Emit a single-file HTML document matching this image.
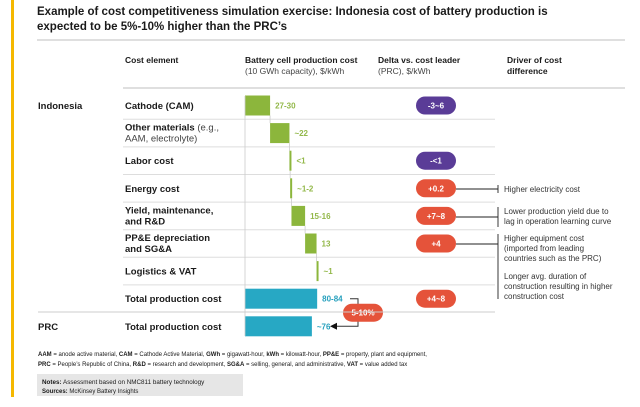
<!DOCTYPE html>
<html><head><meta charset="utf-8"><style>
body{margin:0;background:#fff;font-family:"Liberation Sans",sans-serif;}
svg{display:block}
</style></head><body>
<svg width="640" height="407" viewBox="0 0 640 407" font-family="Liberation Sans, sans-serif">
<rect x="11" y="0" width="3" height="397" fill="#f5b800"/>
<text x="37" y="15" font-size="11.5" font-weight="bold" fill="#1a1a1a">Example of cost competitiveness simulation exercise: Indonesia cost of battery production is<tspan x="37" y="30">expected to be 5%-10% higher than the PRC’s</tspan></text>
<line x1="37" y1="40" x2="625" y2="40" stroke="#ccc" stroke-width="1.2"/>
<g font-size="8.5" fill="#1a1a1a">
<text x="125" y="63" font-weight="bold">Cost element</text>
<text x="245" y="63" font-weight="bold">Battery cell production cost</text>
<text x="245" y="74" fill="#444">(10 GWh capacity), $/kWh</text>
<text x="378" y="63" font-weight="bold">Delta vs. cost leader</text>
<text x="378" y="74" fill="#444">(PRC), $/kWh</text>
<text x="507" y="63" font-weight="bold">Driver of cost</text>
<text x="507" y="74" font-weight="bold">difference</text>
</g>
<line x1="123" y1="88" x2="625" y2="88" stroke="#ccc" stroke-width="1.2"/>
<g id="rows"></g>
<text x="38" y="109" font-size="9.5" font-weight="bold" fill="#1a1a1a">Indonesia</text>
<text x="38" y="330" font-size="9.5" font-weight="bold" fill="#1a1a1a">PRC</text>
<line x1="38" y1="312" x2="495" y2="312" stroke="#ccc" stroke-width="1"/>
<g font-size="8" fill="#333">
<line x1="456" y1="189" x2="498" y2="189" stroke="#222" stroke-width="0.9"/>
<line x1="498" y1="185" x2="498" y2="193" stroke="#222" stroke-width="0.9"/>
<text x="504" y="192">Higher electricity cost</text>
<line x1="456" y1="217" x2="498" y2="217" stroke="#222" stroke-width="0.9"/>
<line x1="498" y1="207" x2="498" y2="227" stroke="#222" stroke-width="0.9"/>
<text x="504" y="214">Lower production yield due to<tspan x="504" y="224">lag in operation learning curve</tspan></text>
<line x1="456" y1="244" x2="498" y2="244" stroke="#222" stroke-width="0.9"/>
<line x1="498" y1="234" x2="498" y2="299" stroke="#222" stroke-width="0.9"/>
<text x="504" y="241">Higher equipment cost<tspan x="504" y="251">(imported from leading</tspan><tspan x="504" y="261">countries such as the PRC)</tspan></text>
<text x="504" y="279">Longer avg. duration of<tspan x="504" y="289">construction resulting in higher</tspan><tspan x="504" y="299">construction cost</tspan></text>
</g>
<g font-size="6" fill="#1a1a1a">
<text x="38" y="356"><tspan font-weight="bold">AAM</tspan> = anode active material, <tspan font-weight="bold">CAM</tspan> = Cathode Active Material, <tspan font-weight="bold">GWh</tspan> = gigawatt-hour, <tspan font-weight="bold">kWh</tspan> = kilowatt-hour, <tspan font-weight="bold">PP&amp;E</tspan> = property, plant and equipment,</text>
<text x="38" y="366"><tspan font-weight="bold">PRC</tspan> = People’s Republic of China, <tspan font-weight="bold">R&amp;D</tspan> = research and development, <tspan font-weight="bold">SG&amp;A</tspan> = selling, general, and administrative, <tspan font-weight="bold">VAT</tspan> = value added tax</text>
</g>
<rect x="37" y="374" width="206" height="22" fill="#e6e6e6"/>
<text x="42" y="384" font-size="6.3" fill="#1a1a1a"><tspan font-weight="bold">Notes:</tspan> Assessment based on NMC811 battery technology</text>
<text x="42" y="393" font-size="6" fill="#1a1a1a"><tspan font-weight="bold">Sources:</tspan> McKinsey Battery Insights</text>
</svg>
<script>
const categories=["Cathode (CAM)","Other materials","Labor cost","Energy cost","Yield, maintenance, and R&D","PP&E depreciation and SG&A","Logistics & VAT","Total production cost","Total production cost"];
const costValues=[28.5,22,0.8,1.5,15.5,13,1,82,76];
const valueLabels=["27-30","~22","<1","~1-2","15-16","13","~1","80-84","~76"];
const deltaLabels=["-3~6","","-<1","+0.2","+7~8","+4","","+4~8",""];
const NS="http://www.w3.org/2000/svg";
const g=document.getElementById('rows');
const x0=245,scale=0.88;
const xs=v=>x0+v*scale;
const rowCenter=i=>105.5+i*27.6;
function el(t,a,p){const e=document.createElementNS(NS,t);for(const k in a)e.setAttribute(k,a[k]);(p||g).appendChild(e);return e;}
const rowLabels=[["Cathode (CAM)"],["Other materials|(e.g.,","AAM, electrolyte)"],["Labor cost"],["Energy cost"],["Yield, maintenance,","and R&D"],["PP&E depreciation","and SG&A"],["Logistics & VAT"],["Total production cost"],["Total production cost"]];
let cum=0;
categories.forEach((c,i)=>{
  const cy=rowCenter(i);
  const isTotal=i>=7;
  let start,end;
  if(isTotal){start=0;end=costValues[i];}else{start=cum;end=cum+costValues[i];cum=end;}
  if(i<7){el('line',{x1:123,y1:cy+13.8,x2:495,y2:cy+13.8,stroke:'#ddd','stroke-width':1});}
  const lab=rowLabels[i];
  const t=el('text',{x:125,'font-size':9.5,'font-weight':'bold',fill:'#1a1a1a'});
  
  
  if(lab.length===1){t.setAttribute('y',cy+3.5);t.textContent=lab[0];}
  else{
    const y1=cy-2.5;
    const parts=lab[0].split('|');
    const a=el('tspan',{x:125,y:y1},t);a.textContent=parts[0];
    if(parts[1]){const b=el('tspan',{'font-weight':'normal',fill:'#444'},t);b.textContent=' '+parts[1];}
    const d=el('tspan',{x:125,y:y1+11,'font-weight':lab[1].startsWith('AAM')?'normal':'bold',fill:lab[1].startsWith('AAM')?'#444':'#1a1a1a'},t);d.textContent=lab[1];
  }
  const w=Math.max(xs(end)-xs(start),2);
  const r=el('rect',{x:xs(start),y:cy-10,width:w,height:20,fill:isTotal?'#27a8c4':'#8cb63c'});
  
  
  if(!isTotal&&i<6){el('line',{x1:xs(end),y1:cy+10,x2:xs(end),y2:cy+17.6,stroke:'#ccc','stroke-width':0.8});}
  const vt=el('text',{x:xs(start)+w+5,y:cy+3,'font-size':8,'font-weight':'bold',fill:isTotal?'#27a0bd':'#93b84a'});
  
  
  vt.textContent=valueLabels[i];
  if(deltaLabels[i]){
    const neg=deltaLabels[i].startsWith('-');
    const p=el('rect',{x:416,y:cy-9,width:40,height:18,rx:9,fill:neg?'#5a3c97':'#e5533a'});
    
    
    const pt=el('text',{x:436,y:cy+3,'font-size':8,'font-weight':'bold',fill:'#fff','text-anchor':'middle'});
    pt.textContent=deltaLabels[i];
  }
});
const yA=rowCenter(7),yB=rowCenter(8);
el('polyline',{points:`350,${yA} 358,${yA} 358,${yB} 336,${yB}`,fill:'none',stroke:'#333','stroke-width':1});
el('polygon',{points:`330,${yB} 337,${yB-3.5} 337,${yB+3.5}`,fill:'#111'});
const pr=el('rect',{x:343,y:yA+5,width:40,height:18,rx:9,fill:'#e5533a'});


const prt=el('text',{x:363,y:yA+17,'font-size':8,'font-weight':'bold',fill:'#fff','text-anchor':'middle'});
prt.textContent='5-10%';
el('line',{x1:x0,y1:96,x2:x0,y2:336,stroke:'#ccc','stroke-width':0.8});
</script>
</body></html>
